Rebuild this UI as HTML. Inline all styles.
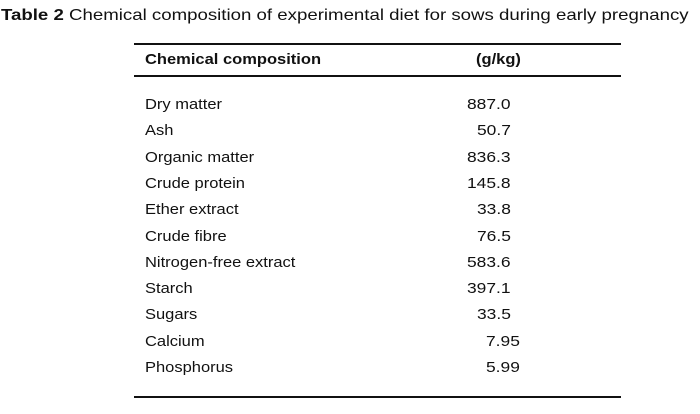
<!DOCTYPE html>
<html><head><meta charset="utf-8"><style>
body{margin:0;width:700px;height:414px;background:#fff;position:relative;font-family:"Liberation Sans",Arial,sans-serif;color:#111;overflow:hidden}
.t{position:absolute;white-space:nowrap;line-height:1;transform-origin:left top}
.line{position:absolute;left:134px;width:487px;height:1.5px;background:#111}
.lbl{position:absolute;left:145px;font-size:15px;line-height:1;white-space:nowrap;transform:scaleX(1.1);transform-origin:left top}
.val{position:absolute;font-size:15px;line-height:1;white-space:nowrap;transform:scaleX(1.16);transform-origin:left top}
</style></head><body>
<div class="t" style="left:1px;top:8px;font-size:16px;transform:scaleX(1.165)"><b>Table 2</b> Chemical composition of experimental diet for sows during early pregnancy</div>
<div class="line" style="top:43px"></div>
<div class="t" style="left:145px;top:52px;font-size:15px;font-weight:bold;transform:scaleX(1.1)">Chemical composition</div>
<div class="t" style="left:476px;top:52px;font-size:15px;font-weight:bold;transform:scaleX(1.1)">(g/kg)</div>
<div class="line" style="top:75px"></div>
<div id="rows"></div>
<div class="line" style="top:396px"></div>
<script>
const labels=["Dry matter","Ash","Organic matter","Crude protein","Ether extract","Crude fibre","Nitrogen-free extract","Starch","Sugars","Calcium","Phosphorus"];
const values=["887.0","50.7","836.3","145.8","33.8","76.5","583.6","397.1","33.5","7.95","5.99"];
const rows=document.getElementById('rows');
labels.forEach((l,i)=>{
  const top=97+i*26.3;
  const a=document.createElement('div');a.className='lbl';a.style.top=top+'px';a.textContent=l;
  
  
  rows.appendChild(a);
  const v=values[i];
  const intLen=v.split('.')[0].length;
  const left=467+(3-intLen)*9.5;
  const b=document.createElement('div');b.className='val';b.style.top=top+'px';b.style.left=left+'px';b.textContent=v;
  
  
  rows.appendChild(b);
});
</script>
</body></html>
